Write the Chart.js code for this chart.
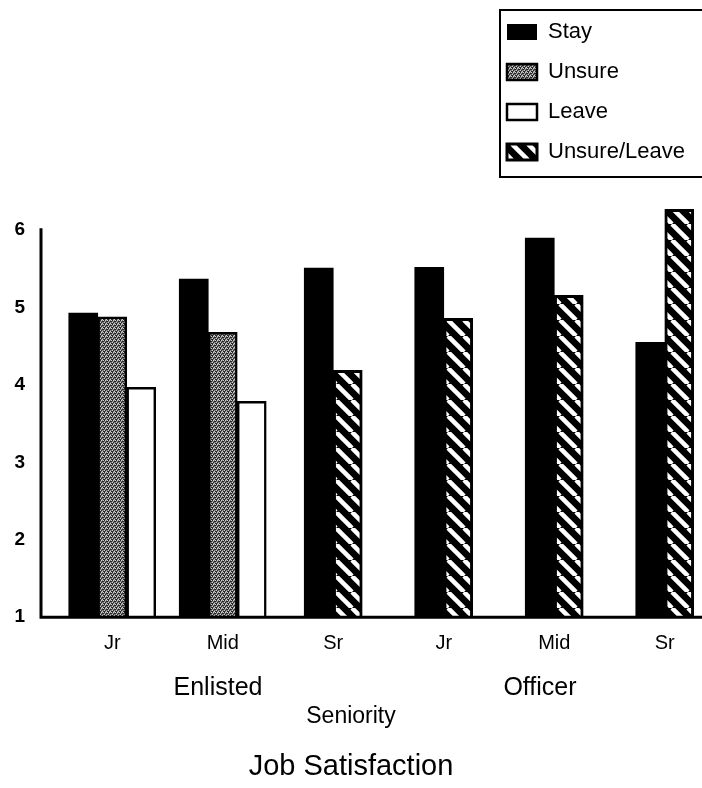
<!DOCTYPE html>
<html>
<head>
<meta charset="utf-8">
<script src="https://cdn.jsdelivr.net/npm/chart.js@4.4.1/dist/chart.umd.min.js"></script>
<style>
  body { margin: 0; background: #fff; }
  #chart { display: block; }
</style>
</head>
<body>
<canvas id="chart" width="702" height="788"></canvas>
<script>
// categories and group labels
const seniority = ['Jr', 'Mid', 'Sr', 'Jr', 'Mid', 'Sr'];
const groups = ['', 'Enlisted', '', '', 'Officer', ''];

// mean job satisfaction by intention
const stay = [4.93, 5.37, 5.51, 5.52, 5.90, 4.55];
const unsure = [4.88, 4.68, null, null, null, null];
const leave = [3.97, 3.79, null, null, null, null];
const unsureLeave = [null, null, 4.19, 4.86, 5.16, 6.27];

const FONT = "'Liberation Sans', Arial, Helvetica, sans-serif";
const AXIS_GAP = 16;   // the axes sit a bit left of the first group
const X_RIGHT = 720;   // the last group runs close to the page edge

// grey stipple like the scanned screen tone
function stipple() {
    const c = document.createElement('canvas');
    c.width = 4; c.height = 4;
    const g = c.getContext('2d');
    g.fillStyle = '#7c7c7c';
    g.fillRect(0, 0, 4, 4);
    g.fillStyle = '#262626';
    [[0, 0], [2, 1], [1, 2], [3, 3], [3, 1], [0, 3]].forEach(p => g.fillRect(p[0], p[1], 1, 1));
    g.fillStyle = '#cfcfcf';
    [[2, 3], [0, 2], [3, 0], [1, 0]].forEach(p => g.fillRect(p[0], p[1], 1, 1));
    return g.createPattern(c, 'repeat');
}

// white diagonal stripes on black
function hatch() {
    const s = 16;
    const c = document.createElement('canvas');
    c.width = s; c.height = s;
    const g = c.getContext('2d');
    g.fillStyle = '#000';
    g.fillRect(0, 0, s, s);
    g.strokeStyle = '#fff';
    g.lineWidth = 4.5;
    [-s, 0, s].forEach(k => {
        g.beginPath();
        g.moveTo(k, 0);
        g.lineTo(k + s, s);
        g.stroke();
    });
    return g.createPattern(c, 'repeat');
}

// legend in the top right corner with a frame, bar scale stretched, axis lines
const extras = {
    id: 'extras',
    afterLayout(chart) {
        const lg = chart.legend;
        lg.left = 489; lg.top = 3;
        lg.width = 213; lg.height = 200;
        lg.right = lg.left + lg.width; lg.bottom = lg.top + lg.height;
        const s = chart.scales.x;
        s.right = X_RIGHT;
        s.width = s.right - s.left;
        s.configure();
    },
    afterDraw(chart) {
        const ctx = chart.ctx;
        const y = chart.scales.y;
        const x0 = chart.chartArea.left - AXIS_GAP;
        const y0 = y.getPixelForValue(1);
        ctx.save();
        ctx.strokeStyle = '#000';
        ctx.lineWidth = 3;
        ctx.beginPath();
        ctx.moveTo(x0, y0 + 1);
        ctx.lineTo(x0, y.getPixelForValue(6) - 2);
        ctx.moveTo(x0 - 1.5, y0);
        ctx.lineTo(chart.width, y0);
        ctx.stroke();
        ctx.lineWidth = 2;
        ctx.strokeRect(500, 10, 210, 167);
        ctx.restore();
    }
};

new Chart(document.getElementById('chart'), {
    type: 'bar',
    data: {
        labels: seniority,
        datasets: [
            { label: 'Stay', data: stay, backgroundColor: '#000', borderColor: '#000', borderWidth: 0 },
            { label: 'Unsure', data: unsure, backgroundColor: stipple(), borderColor: '#000', borderWidth: 2.5 },
            { label: 'Leave', data: leave, backgroundColor: '#fff', borderColor: '#000', borderWidth: 2.5 },
            { label: 'Unsure/Leave', data: unsureLeave, backgroundColor: hatch(), borderColor: '#000', borderWidth: 3 }
        ]
    },
    options: {
        responsive: false,
        animation: false,
        skipNull: true,
        barThickness: 29,
        layout: { padding: { top: 207, left: 0, right: 0, bottom: 0 } },
        scales: {
            x: {
                grid: { display: false, drawTicks: false },
                border: { display: false },
                ticks: { color: '#000', padding: 14, font: { family: FONT, size: 20 } }
            },
            x2: {
                type: 'category',
                labels: groups,
                position: 'bottom',
                offset: true,
                grid: { display: false, drawTicks: false },
                border: { display: false },
                ticks: { color: '#000', padding: 4, autoSkip: false, font: { family: FONT, size: 25 } }
            },
            y: {
                min: 1,
                max: 6.3,
                grid: { display: false, drawTicks: false },
                border: { display: false },
                afterFit: function (scale) { scale.width = 41 + AXIS_GAP; },
                ticks: {
                    stepSize: 1,
                    color: '#000',
                    padding: 16 + AXIS_GAP,
                    font: { family: FONT, size: 19, weight: 'bold' },
                    callback: function (value) {
                        // only whole numbers get a label
                        return Number.isInteger(value) ? value : '';
                    }
                }
            }
        },
        plugins: {
            legend: {
                position: 'right',
                align: 'start',
                maxWidth: 1,
                labels: {
                    color: '#000',
                    boxWidth: 30,
                    boxHeight: 16,
                    padding: 18,
                    font: { family: FONT, size: 22 }
                }
            },
            subtitle: {
                display: true,
                position: 'bottom',
                text: 'Seniority',
                color: '#000',
                font: { family: FONT, size: 23, lineHeight: '18px' },
                padding: { top: 0, bottom: 20 }
            },
            title: {
                display: true,
                position: 'bottom',
                text: 'Job Satisfaction',
                color: '#000',
                font: { family: FONT, size: 29, weight: 'normal' },
                padding: { top: 4, bottom: 4 }
            },
            tooltip: { enabled: false }
        }
    },
    plugins: [extras]
});
</script>
</body>
</html>
